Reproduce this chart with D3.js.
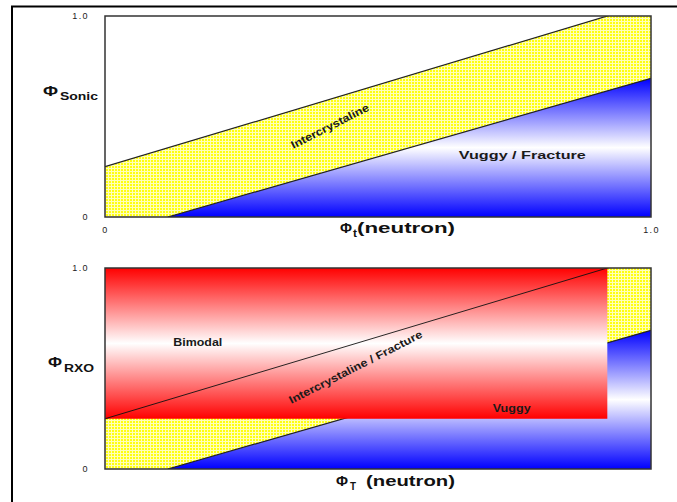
<!DOCTYPE html>
<html><head><meta charset="utf-8">
<script src="https://cdn.jsdelivr.net/npm/d3@7"></script>
<style>body{margin:0;background:#fff}svg{display:block}text{font-family:Arial,"Liberation Sans",sans-serif}</style>
</head><body><svg id="c" width="677" height="502"></svg>
<script>
// ---- data ----
const tickValues = [0, 1];
const tickLabels = ["0", "1.0"];
const upperLine = [[0, 0.25], [0.92, 1.0]];       // intercrystaline upper bound
const lowerLine = [[0.115, 0], [1.0, 0.69]];       // vuggy/fracture bound
const redBox = {x0: 0, x1: 0.92, y0: 0.25, y1: 1.0};
const topLabels = [
  {text: "Intercrystaline", x: 0.415, y: 0.435, rot: -27, len: 86},
  {text: "Vuggy / Fracture", x: 0.648, y: 0.29, rot: 0, len: 127}
];
const botLabels = [
  {text: "Bimodal", x: 0.125, y: 0.61, rot: 0, len: 49},
  {text: "Intercrystaline / Fracture", x: 0.462, y: 0.49, rot: -27, len: 148},
  {text: "Vuggy", x: 0.71, y: 0.285, rot: 0, len: 38}
];

const svg = d3.select("#c");
const defs = svg.append("defs");
// yellow grid pattern
const pat = defs.append("pattern").attr("id","ygrid").attr("width",3).attr("height",3).attr("patternUnits","userSpaceOnUse");
pat.append("rect").attr("width",3).attr("height",3).attr("fill","#ffff10");
pat.append("rect").attr("width",3).attr("height",1).attr("fill","#ffffb8");
pat.append("rect").attr("width",1).attr("height",3).attr("fill","#ffffb8");
function grad(id, col){
  const g = defs.append("linearGradient").attr("id",id).attr("x1",0).attr("y1",0).attr("x2",0).attr("y2",1);
  g.append("stop").attr("offset","0%").attr("stop-color",col);
  g.append("stop").attr("offset","50%").attr("stop-color","#ffffff");
  g.append("stop").attr("offset","100%").attr("stop-color",col);
}
grad("bgrad","#0000ff");
grad("rgrad","#ff0000");

// outer frame
svg.append("line").attr("x1",12).attr("x2",12).attr("y1",6).attr("y2",502).attr("stroke","#000").attr("stroke-width",2);
svg.append("line").attr("x1",11).attr("x2",677).attr("y1",6.5).attr("y2",6.5).attr("stroke","#000").attr("stroke-width",2);

function txt(parent, s, x, y, size, len, opts={}){
  const t = parent.append("text").attr("x",x).attr("y",y).attr("font-size",size)
    .attr("font-weight", opts.weight || "bold").attr("fill", opts.fill || "#1a1a1a")
    .attr("textLength",len).attr("lengthAdjust","spacingAndGlyphs").text(s);
  if(opts.transform) t.attr("transform",opts.transform);
  if(opts.anchor) t.attr("text-anchor",opts.anchor);
  return t;
}

function panel(top, bottom, opts){
  const x = d3.scaleLinear().domain([0,1]).range([105,651]);
  const y = d3.scaleLinear().domain([0,1]).range([bottom, top]);
  const g = svg.append("g");
  const cid = "clip" + top;
  defs.append("clipPath").attr("id",cid).append("rect")
    .attr("x",x(0)).attr("y",y(1)).attr("width",x(1)-x(0)).attr("height",y(0)-y(1));
  const p = g.append("g").attr("clip-path",`url(#${cid})`);
  const up = upperLine, lo = lowerLine;
  const slopeU = (up[1][1]-up[0][1])/(up[1][0]-up[0][0]);
  const yU = xv => up[0][1] + slopeU*(xv-up[0][0]);
  const line = d3.line().x(d=>x(d[0])).y(d=>y(d[1]));
  const band = [[0,yU(0)],[1,yU(1)],[1,0],[0,0]];
  p.append("path").attr("d", line(band)+"Z").attr("fill","url(#ygrid)");
  const tri = [lo[0],[1,0],lo[1]];
  p.append("path").attr("d", line(tri)+"Z").attr("fill","url(#bgrad)");
  p.append("path").attr("d", line(lo)).attr("stroke","#222").attr("stroke-width",1.2).attr("fill","none");
  p.append("path").attr("d", line([[0,yU(0)],[1,yU(1)]])).attr("stroke","#222").attr("stroke-width",1.2).attr("fill","none");
  if(opts.red){
    p.append("rect").attr("x",x(redBox.x0)).attr("y",y(redBox.y1)).attr("width",x(redBox.x1)-x(redBox.x0)).attr("height",y(redBox.y0)-y(redBox.y1)).attr("fill","url(#rgrad)");
    p.append("path").attr("d", line(up)).attr("stroke","#111").attr("stroke-width",0.9).attr("fill","none");
  }
  g.append("rect").attr("x",x(0)).attr("y",y(1)).attr("width",x(1)-x(0)).attr("height",y(0)-y(1)).attr("fill","none").attr("stroke","#333").attr("stroke-width",1.5);
  // axes
  const ya = g.append("g").attr("transform",`translate(${x(0)-13},0)`).call(d3.axisLeft(y).tickValues(tickValues).tickSize(0).tickFormat((d,i)=>tickLabels[i]));
  ya.select(".domain").remove();
  ya.selectAll("text").attr("font-size",9).attr("fill","#222").attr("font-family","Arial").attr("letter-spacing",1.4).attr("dy","0.3em");
  if(opts.xticks){
    const xa = g.append("g").attr("transform",`translate(0,${y(0)+7})`).call(d3.axisBottom(x).tickValues(tickValues).tickSize(0).tickFormat((d,i)=>tickLabels[i]));
    xa.select(".domain").remove();
    xa.selectAll("text").attr("font-size",9).attr("fill","#222").attr("font-family","Arial").attr("letter-spacing",1.4);
  }
  opts.labels.forEach(l=>{
    txt(g, l.text, 0, 0, 11, l.len, {transform:`translate(${x(l.x)},${y(l.y)}) rotate(${l.rot})`, anchor: l.rot ? "middle" : "start"});
  });
  return {x,y,g};
}

panel(16, 217, {xticks:true, labels: topLabels});
panel(268, 469, {red:true, xticks:false, labels: botLabels});

// axis titles
txt(svg, "Φ", 43, 96, 15, 15, {fill:"#111"});
txt(svg, "Sonic", 60, 100, 10, 38, {fill:"#111"});
txt(svg, "Φ", 48, 367, 15, 14, {fill:"#111"});
txt(svg, "RXO", 64, 372, 10, 30, {fill:"#111"});
txt(svg, "Φ", 340, 233, 14, 12, {fill:"#111"});
txt(svg, "t", 353, 237, 10, 4, {fill:"#111"});
txt(svg, "(neutron)", 357, 233, 14, 98, {fill:"#111"});
txt(svg, "Φ", 336, 486, 14, 12, {fill:"#111"});
txt(svg, "T", 350, 490, 10, 6, {fill:"#111"});
txt(svg, "(neutron)", 366, 486, 14, 89, {fill:"#111"});
</script></body></html>
